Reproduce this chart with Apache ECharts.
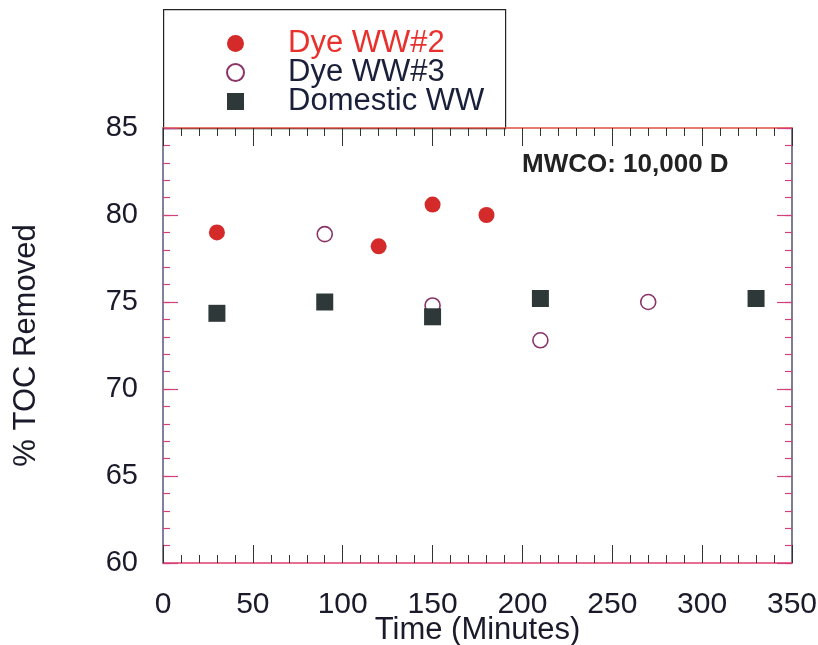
<!DOCTYPE html>
<html>
<head>
<meta charset="utf-8">
<script src="https://cdn.jsdelivr.net/npm/echarts@6/dist/echarts.min.js"></script>
<style>html,body{margin:0;padding:0;background:#fff;}#c{width:818px;height:645px;}</style>
</head>
<body>
<div id="c"></div>
<script>
const seriesNames = ['Dye WW#2', 'Dye WW#3', 'Domestic WW'];
const dye2Time = [30, 120, 150, 180];
const dye2Toc = [79.0, 78.2, 80.6, 80.0];
const dye3Time = [90, 150, 210, 270];
const dye3Toc = [78.9, 74.8, 72.8, 75.0];
const domTime = [30, 90, 150, 210, 330];
const domToc = [74.35, 75.0, 74.15, 75.2, 75.2];
const xTitle = 'Time (Minutes)';
const yTitle = '% TOC Removed';
const note = 'MWCO: 10,000 D';

const pairs = (xs, ys) => xs.map((x, i) => [x, ys[i]]);
const font = 'Liberation Sans, Arial, Helvetica, sans-serif';
const chart = echarts.init(document.getElementById('c'));

function xAx(pos, interval, len, opts) {
  return Object.assign({
    type: 'value', min: 0, max: 350, interval: interval, position: pos,
    splitLine: { show: false },
    axisLine: { show: false, onZero: false },
    axisLabel: { show: false },
    axisTick: { show: true, inside: true, length: len, lineStyle: { color: '#333', width: 1 } }
  }, opts || {});
}
function yAx(pos, interval, len, opts) {
  return Object.assign({
    type: 'value', min: 60, max: 85, interval: interval, position: pos,
    splitLine: { show: false },
    axisLine: { show: false, onZero: false },
    axisLabel: { show: false },
    axisTick: { show: true, inside: true, length: len, lineStyle: { color: '#d0407a', width: 1.2 } }
  }, opts || {});
}

chart.setOption({
  animation: false,
  backgroundColor: '#fff',
  grid: { left: 163, right: 26, top: 128, bottom: 82, containLabel: false, outerBoundsMode: 'none' },
  title: {
    text: note, left: 517, top: 147,
    textStyle: { fontFamily: font, fontSize: 26, fontWeight: 'bold', color: '#222' }
  },
  graphic: [{
    type: 'rect', left: 163, top: 9, z: 0,
    shape: { width: 342, height: 119 },
    style: { fill: '#fff', stroke: '#222', lineWidth: 1.2 }
  }],
  legend: {
    orient: 'vertical', left: 221, top: 23, z: 10,
    itemWidth: 17, itemHeight: 17, itemGap: -2,
    textStyle: { fontFamily: font, fontSize: 31, lineHeight: 29, color: '#1a1f3a', padding: [0, 0, 0, 39] },
    data: [
      { name: seriesNames[0], textStyle: { color: '#e8302c' } },
      { name: seriesNames[1] },
      { name: seriesNames[2] }
    ]
  },
  xAxis: [
    xAx('bottom', 50, 18, {
      axisLine: { show: true, onZero: false, lineStyle: { color: '#e0406e', width: 1.5 } },
      axisLabel: { show: true, fontFamily: font, fontSize: 30, color: '#1a1a2a', margin: 27 },
      name: xTitle, nameLocation: 'middle', nameGap: 52, nameMoveOverlap: false,
      nameTextStyle: { fontFamily: font, fontSize: 31, color: '#1a1a2a' }
    }),
    xAx('bottom', 10, 8),
    xAx('top', 50, 18, {
      axisLine: { show: true, onZero: false, lineStyle: { color: '#e05040', width: 1.5 } }
    }),
    xAx('top', 10, 8)
  ],
  yAxis: [
    yAx('left', 5, 15, {
      axisLine: { show: true, onZero: false, lineStyle: { color: '#555a78', width: 1.5 } },
      axisLabel: { show: true, fontFamily: font, fontSize: 29, color: '#1a1a2a', margin: 25 },
      name: yTitle, nameLocation: 'middle', nameGap: 121, nameRotate: 90, nameMoveOverlap: false,
      nameTextStyle: { fontFamily: font, fontSize: 31, color: '#1a1a2a' }
    }),
    yAx('left', 1, 7),
    yAx('right', 5, 15, {
      axisLine: { show: true, onZero: false, lineStyle: { color: '#505070', width: 1.5 } }
    }),
    yAx('right', 1, 7)
  ],
  series: [
    {
      name: seriesNames[0], type: 'scatter', symbol: 'circle', symbolSize: 16,
      xAxisIndex: 0, yAxisIndex: 0,
      itemStyle: { color: '#d42a2a', opacity: 1 },
      data: pairs(dye2Time, dye2Toc)
    },
    {
      name: seriesNames[1], type: 'scatter', symbol: 'circle', symbolSize: 15,
      xAxisIndex: 0, yAxisIndex: 0,
      itemStyle: { color: '#ffffff', borderColor: '#8a3468', borderWidth: 1.6, opacity: 1 },
      data: pairs(dye3Time, dye3Toc)
    },
    {
      name: seriesNames[2], type: 'scatter', symbol: 'rect', symbolSize: 17,
      xAxisIndex: 0, yAxisIndex: 0,
      itemStyle: { color: '#2e3838', opacity: 1 },
      data: pairs(domTime, domToc)
    }
  ]
});
</script>
</body>
</html>
